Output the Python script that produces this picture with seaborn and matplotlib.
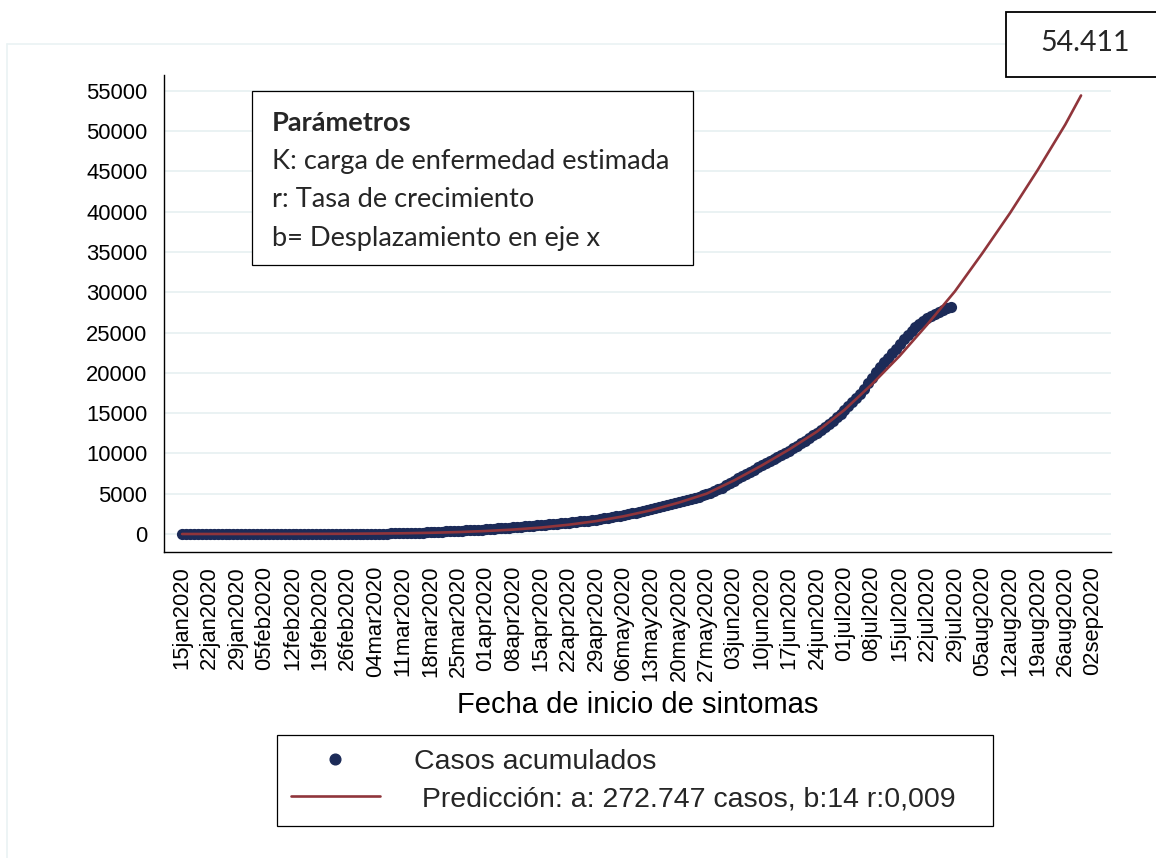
import pandas as pd
import matplotlib
matplotlib.use("Agg")
import matplotlib.pyplot as plt
from matplotlib.lines import Line2D
from matplotlib.patches import Rectangle
import seaborn as sns

# Casos acumulados por fecha de inicio de sintomas (diario, desde 15jan2020)
casos_jan = [0, 0, 0, 0, 1, 1, 1, 1, 1, 1, 1, 2, 2, 2, 2, 2, 3]
casos_feb = [3, 3, 3, 4, 4, 4, 5, 5, 5, 6, 6, 7, 7, 8, 8, 9, 10, 10, 11, 12,
             13, 14, 15, 17, 18, 20, 22, 24, 27]
casos_mar = [29, 32, 35, 38, 42, 48, 55, 63, 72, 85, 98, 112, 128, 146, 166, 186,
             207, 228, 252, 276, 300, 324, 350, 375, 400, 425, 450, 476, 500, 526, 552]
casos_apr = [588, 622, 658, 693, 728, 762, 798, 834, 870, 906, 942, 978, 1016, 1056,
             1098, 1140, 1184, 1228, 1272, 1318, 1364, 1412, 1460, 1510, 1560, 1614,
             1670, 1728, 1790, 1858]
casos_may = [1940, 2025, 2110, 2195, 2280, 2370, 2460, 2550, 2645, 2740, 2860, 2980,
             3100, 3220, 3340, 3460, 3585, 3710, 3840, 3970, 4100, 4230, 4360, 4495,
             4630, 4790, 4960, 5140, 5330, 5530, 5730]
casos_jun = [6020, 6320, 6610, 6900, 7180, 7460, 7740, 8000, 8260, 8520, 8780, 9040,
             9300, 9560, 9820, 10080, 10350, 10620, 10920, 11240, 11560, 11900, 12240,
             12580, 12930, 13290, 13660, 14060, 14480, 14920]
casos_jul = [15380, 15860, 16360, 16880, 17420, 18020, 18680, 19400, 20150, 20760,
             21320, 21880, 22440, 23010, 23580, 24150, 24720, 25220, 25680, 26100,
             26480, 26800, 27080, 27330, 27560, 27780, 27990, 28200]

# Prediccion (modelo logistico)
pred_fechas = ["2020-01-15", "2020-01-22", "2020-01-29", "2020-02-05", "2020-02-12",
               "2020-02-19", "2020-02-26", "2020-03-04", "2020-03-11", "2020-03-18",
               "2020-03-25", "2020-04-01", "2020-04-08", "2020-04-15", "2020-04-22",
               "2020-04-29", "2020-05-06", "2020-05-13", "2020-05-20", "2020-05-27",
               "2020-06-03", "2020-06-10", "2020-06-17", "2020-06-24", "2020-07-01",
               "2020-07-08", "2020-07-15", "2020-07-22", "2020-07-29", "2020-08-05",
               "2020-08-12", "2020-08-19", "2020-08-26", "2020-08-30"]
pred_casos = [1, 2, 3, 6, 10, 18, 30, 55, 90, 150, 240, 370, 550, 800, 1150, 1600,
              2200, 2950, 3900, 5000, 6650, 8500, 10500, 12700, 15400, 18600, 22100,
              26000, 30100, 34860, 39830, 45160, 50800, 54411]

y_ticks = list(range(0, 55001, 5000))
parametros = ["Parámetros", "K: carga de enfermedad estimada",
              "r: Tasa de crecimiento", "b= Desplazamiento en eje x"]
valor_final = "54.411"
leyenda = ["Casos acumulados", " Predicción: a: 272.747 casos, b:14 r:0,009"]

casos = casos_jan + casos_feb + casos_mar + casos_apr + casos_may + casos_jun + casos_jul
df = pd.DataFrame({"fecha": pd.date_range("2020-01-15", periods=len(casos), freq="D"),
                   "casos": casos})
pred = pd.DataFrame({"fecha": pd.to_datetime(pred_fechas), "casos": pred_casos})

sns.set_theme(style="white")
plt.rcParams["font.family"] = ["Liberation Sans", "DejaVu Sans"]

navy = "#1c2b58"
maroon = "#90353b"
gridc = "#eaf2f3"
W, H = 1156, 858

fig = plt.figure(figsize=(11.56, 8.58), dpi=100)
ax = fig.add_axes([164 / W, 1 - 552 / H, 947 / W, 477 / H])

sns.scatterplot(data=df, x="fecha", y="casos", ax=ax, s=65, color=navy,
                linewidth=0, zorder=3, legend=False)
sns.lineplot(data=pred, x="fecha", y="casos", ax=ax, color=maroon, lw=1.9,
             zorder=4, legend=False)

t0 = pd.Timestamp("2020-01-15")
ax.set_xlim(t0 - pd.Timedelta(days=4.6), t0 + pd.Timedelta(days=235.6))
ax.set_ylim(-2233, 56950)

xt = pd.date_range("2020-01-15", "2020-09-02", freq="7D")
ax.set_xticks(xt)
ax.set_xticklabels([d.strftime("%d%b%Y").lower() for d in xt], rotation=90)
ax.set_yticks(y_ticks)
ax.set_yticklabels([str(v) for v in y_ticks])

ax.yaxis.grid(True, color=gridc, lw=1.4)
ax.xaxis.grid(False)
ax.set_axisbelow(True)
for s in ["top", "right"]:
    ax.spines[s].set_visible(False)
for s in ["left", "bottom"]:
    ax.spines[s].set_color("black")
    ax.spines[s].set_linewidth(1.0)
ax.tick_params(axis="both", direction="out", length=8, width=1.0, color="black",
               labelsize=15.8, labelcolor="black")
ax.tick_params(axis="y", pad=4)
ax.tick_params(axis="x", pad=2)

ax.set_xlabel("Fecha de inicio de sintomas", fontsize=21, color="black")
ax.xaxis.set_label_coords(0.5, -0.292)
ax.set_ylabel("")

# leyenda inferior
handles = [Line2D([], [], marker="o", ls="none", color=navy, markersize=7.7),
           Line2D([], [], color=maroon, lw=1.9)]
leg = fig.legend(handles, leyenda, loc="center",
                 bbox_to_anchor=(277 / W, 1 - 827 / H, 716 / W, 93 / H),
                 bbox_transform=fig.transFigure, mode="expand", borderaxespad=0,
                 fontsize=20.5, handlelength=3.1, handletextpad=1.2, borderpad=0.5,
                 labelspacing=0.4, fancybox=False, framealpha=1, edgecolor="black")
leg.get_frame().set_linewidth(0.9)

# caja de parametros
fig.add_artist(Rectangle((252 / W, 1 - 265 / H), 441 / W, 174 / H, transform=fig.transFigure,
                         facecolor="white", edgecolor="black", lw=0.9, zorder=5))
for i, (txt, yb) in enumerate(zip(parametros, [131, 169, 207, 246])):
    fig.text(272 / W, 1 - yb / H, txt, fontsize=19.6, va="baseline", ha="left",
             family=["Lato", "DejaVu Sans"], fontweight="bold" if i == 0 else "normal",
             zorder=6)

# valor final de la prediccion
fig.add_artist(Rectangle((1006 / W, 1 - 77 / H), 0.2, 65 / H, transform=fig.transFigure,
                         facecolor="white", edgecolor="black", lw=1.3, zorder=5))
fig.text(1085 / W, 1 - 43 / H, valor_final, fontsize=20.5, ha="center", va="center",
         family=["Lato", "DejaVu Sans"], zorder=6)

# marco tenue de la region del grafico
fig.add_artist(Line2D([7 / W, 7 / W], [0, 1 - 44 / H], transform=fig.transFigure,
                      color=gridc, lw=1.2))
fig.add_artist(Line2D([7 / W, 1], [1 - 44 / H, 1 - 44 / H], transform=fig.transFigure,
                      color=gridc, lw=1.2))

fig.savefig("out.png", dpi=100)
